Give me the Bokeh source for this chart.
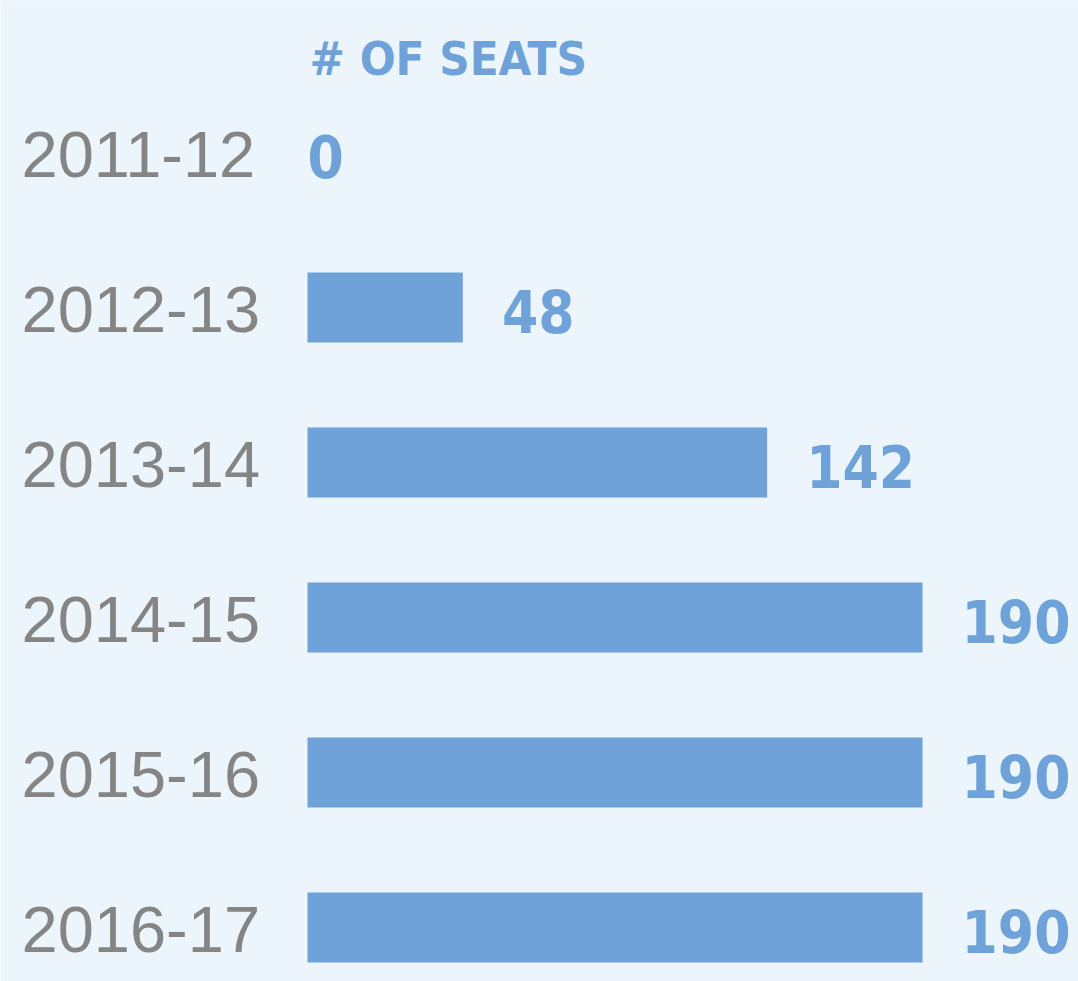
from bokeh.plotting import figure
from bokeh.models import ColumnDataSource, Range1d
from bokeh.core.properties import value
from bokeh.embed import file_html
from bokeh.resources import INLINE

# Data
years = ["2011-12", "2012-13", "2013-14", "2014-15", "2015-16", "2016-17"]
seats = [0, 48, 142, 190, 190, 190]
header = "# OF SEATS"

BG = "#EDF5FC"
BAR = "#6FA2D8"
GRAY = "#858585"
NARROW = "DejaVu Sans Condensed"

W, H = 1078, 981
px_per_unit = 3.237
left_px = 307
x_start = -left_px / px_per_unit
x_end = (W - left_px) / px_per_unit
row_px = 155
top_px = 152
y_top = -top_px / row_px
y_bottom = (H - top_px) / row_px

rows = list(range(len(years)))
src = ColumnDataSource(dict(
    y=rows,
    year=years,
    seats=seats,
    half=[v / 2 for v in seats],
    label=[str(v) for v in seats],
    xs=[x_start] * len(years),
    off=[0 if v == 0 else 39 for v in seats],
))

p = figure(width=W, height=H, output_backend="svg", toolbar_location=None,
           x_range=Range1d(x_start, x_end), y_range=Range1d(y_bottom, y_top),
           min_border=0, background_fill_color=BG, border_fill_color=BG,
           outline_line_color=None)
p.axis.visible = False
p.grid.visible = False

p.rect(x="half", y="y", width="seats", height=70 / row_px, source=src,
       fill_color=BAR, line_color=None)

p.text(x="xs", y="y", text="year", source=src, x_offset=21, y_offset=2,
       text_align="left", text_baseline="middle",
       text_font=value("Liberation Sans"), text_font_size="65px",
       text_color=GRAY)

p.text(x="seats", y="y", text="label", source=src, x_offset="off", y_offset=4,
       text_align="left", text_baseline="middle",
       text_font=value(NARROW), text_font_style="bold", text_font_size="58px",
       text_color=BAR)

p.text(x=[0], y=[0], text=[header], x_offset=2, y_offset=-94,
       text_align="left", text_baseline="middle",
       text_font=value(NARROW), text_font_style="bold", text_font_size="47px",
       text_color=BAR)

open("out.html", "w").write(file_html(p, INLINE))
